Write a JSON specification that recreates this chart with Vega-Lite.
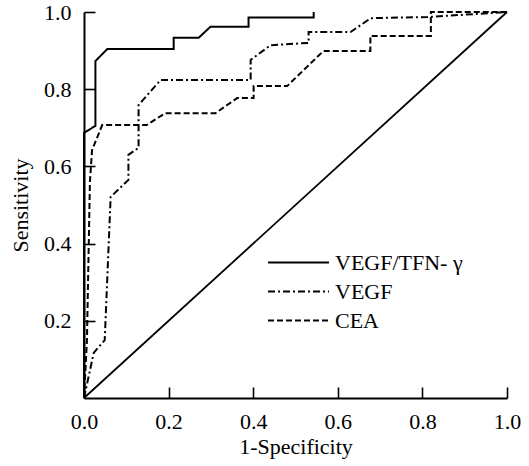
{
  "$schema": "https://vega.github.io/schema/vega-lite/v6.json",
  "width": 423,
  "height": 386,
  "autosize": "none",
  "padding": {"left": 84, "top": 12, "right": 22, "bottom": 68},
  "background": "white",
  "config": {
    "view": {"stroke": null},
    "font": "Liberation Serif, Times New Roman, DejaVu Serif, serif",
    "axis": {
      "grid": false,
      "domainColor": "black",
      "domainWidth": 2,
      "tickColor": "black",
      "tickWidth": 1.6,
      "tickSize": -11,
      "labelFlush": false,
      "labelFont": "Liberation Serif, Times New Roman, DejaVu Serif, serif",
      "labelFontSize": 22,
      "labelColor": "black",
      "titleFont": "Liberation Serif, Times New Roman, DejaVu Serif, serif",
      "titleFontSize": 22,
      "titleFontWeight": "normal",
      "titleColor": "black"
    },
    "legend": {
      "labelFont": "Liberation Serif, Times New Roman, DejaVu Serif, serif",
      "labelFontSize": 22,
      "labelColor": "black"
    }
  },
  "layer": [
    {
      "data": {"values": [{"x": 0, "y": 0}, {"x": 1, "y": 1}]},
      "mark": {"type": "line", "color": "black", "strokeWidth": 1.8},
      "encoding": {
        "x": {"field": "x", "type": "quantitative"},
        "y": {"field": "y", "type": "quantitative"}
      }
    },
    {
      "data": {"values": [
        {"s": "VEGF/TFN- γ", "i": 0, "x": 0, "y": 0},
        {"s": "VEGF/TFN- γ", "i": 1, "x": 0, "y": 0.687},
        {"s": "VEGF/TFN- γ", "i": 2, "x": 0.027, "y": 0.705},
        {"s": "VEGF/TFN- γ", "i": 3, "x": 0.027, "y": 0.873},
        {"s": "VEGF/TFN- γ", "i": 4, "x": 0.055, "y": 0.904},
        {"s": "VEGF/TFN- γ", "i": 5, "x": 0.212, "y": 0.904},
        {"s": "VEGF/TFN- γ", "i": 6, "x": 0.212, "y": 0.933},
        {"s": "VEGF/TFN- γ", "i": 7, "x": 0.271, "y": 0.933},
        {"s": "VEGF/TFN- γ", "i": 8, "x": 0.299, "y": 0.962},
        {"s": "VEGF/TFN- γ", "i": 9, "x": 0.389, "y": 0.962},
        {"s": "VEGF/TFN- γ", "i": 10, "x": 0.389, "y": 0.986},
        {"s": "VEGF/TFN- γ", "i": 11, "x": 0.543, "y": 0.986},
        {"s": "VEGF/TFN- γ", "i": 12, "x": 0.543, "y": 1.0},
        {"s": "VEGF", "i": 0, "x": 0, "y": 0},
        {"s": "VEGF", "i": 1, "x": 0.023, "y": 0.117},
        {"s": "VEGF", "i": 2, "x": 0.049, "y": 0.15},
        {"s": "VEGF", "i": 3, "x": 0.063, "y": 0.521},
        {"s": "VEGF", "i": 4, "x": 0.105, "y": 0.565},
        {"s": "VEGF", "i": 5, "x": 0.105, "y": 0.63},
        {"s": "VEGF", "i": 6, "x": 0.129, "y": 0.648},
        {"s": "VEGF", "i": 7, "x": 0.129, "y": 0.759},
        {"s": "VEGF", "i": 8, "x": 0.181, "y": 0.824},
        {"s": "VEGF", "i": 9, "x": 0.394, "y": 0.824},
        {"s": "VEGF", "i": 10, "x": 0.394, "y": 0.876},
        {"s": "VEGF", "i": 11, "x": 0.441, "y": 0.914},
        {"s": "VEGF", "i": 12, "x": 0.531, "y": 0.92},
        {"s": "VEGF", "i": 13, "x": 0.531, "y": 0.948},
        {"s": "VEGF", "i": 14, "x": 0.63, "y": 0.948},
        {"s": "VEGF", "i": 15, "x": 0.678, "y": 0.984},
        {"s": "VEGF", "i": 16, "x": 0.812, "y": 0.987},
        {"s": "VEGF", "i": 17, "x": 1.0, "y": 1.0},
        {"s": "CEA", "i": 0, "x": 0, "y": 0},
        {"s": "CEA", "i": 1, "x": 0.007, "y": 0.15},
        {"s": "CEA", "i": 2, "x": 0.014, "y": 0.56},
        {"s": "CEA", "i": 3, "x": 0.019, "y": 0.642},
        {"s": "CEA", "i": 4, "x": 0.043, "y": 0.707},
        {"s": "CEA", "i": 5, "x": 0.148, "y": 0.707},
        {"s": "CEA", "i": 6, "x": 0.192, "y": 0.738},
        {"s": "CEA", "i": 7, "x": 0.311, "y": 0.738},
        {"s": "CEA", "i": 8, "x": 0.362, "y": 0.777},
        {"s": "CEA", "i": 9, "x": 0.401, "y": 0.777},
        {"s": "CEA", "i": 10, "x": 0.401, "y": 0.808},
        {"s": "CEA", "i": 11, "x": 0.48, "y": 0.808},
        {"s": "CEA", "i": 12, "x": 0.566, "y": 0.899},
        {"s": "CEA", "i": 13, "x": 0.677, "y": 0.899},
        {"s": "CEA", "i": 14, "x": 0.677, "y": 0.938},
        {"s": "CEA", "i": 15, "x": 0.82, "y": 0.938},
        {"s": "CEA", "i": 16, "x": 0.82, "y": 1.0},
        {"s": "CEA", "i": 17, "x": 1.0, "y": 1.0}
      ]},
      "mark": {"type": "line", "color": "black", "strokeWidth": 2},
      "encoding": {
        "x": {
          "field": "x", "type": "quantitative",
          "scale": {"domain": [0, 1], "nice": false, "zero": false},
          "axis": {"values": [0, 0.2, 0.4, 0.6, 0.8, 1.0], "format": ".1f", "title": "1-Specificity", "labelPadding": 24, "titlePadding": 4}
        },
        "y": {
          "field": "y", "type": "quantitative",
          "scale": {"domain": [0, 1], "nice": false, "zero": false},
          "axis": {"values": [0.2, 0.4, 0.6, 0.8, 1.0], "format": ".1f", "title": "Sensitivity", "labelPadding": 24, "titlePadding": 11}
        },
        "order": {"field": "i", "type": "quantitative"},
        "strokeDash": {
          "field": "s", "type": "nominal",
          "scale": {
            "domain": ["VEGF/TFN- γ", "VEGF", "CEA"],
            "range": [[1, 0], [7, 3, 2, 3], [6, 3]]
          },
          "legend": {
            "title": null,
            "orient": "none",
            "legendX": 203,
            "legendY": 239,
            "symbolType": "M-3,0H3",
            "symbolSize": 413,
            "symbolStrokeWidth": 2,
            "symbolStrokeColor": "black",
            "rowPadding": 6,
            "labelOffset": 25,
            "padding": 0
          }
        }
      }
    }
  ]
}
